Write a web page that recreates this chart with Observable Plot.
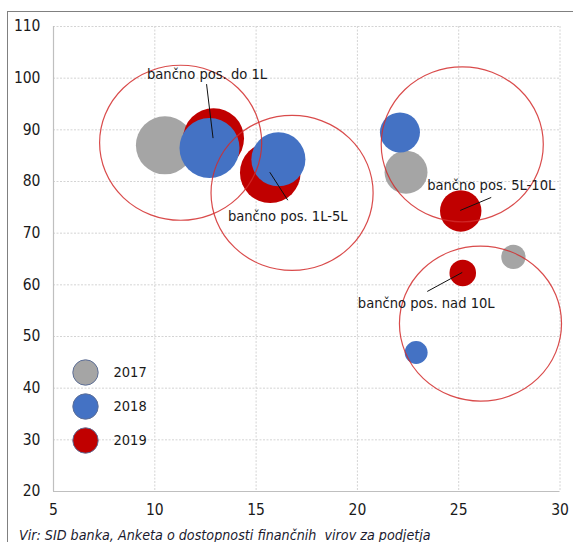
<!DOCTYPE html>
<html>
<head>
<meta charset="utf-8">
<script src="https://cdn.jsdelivr.net/npm/d3@7"></script>
<script src="https://cdn.jsdelivr.net/npm/@observablehq/plot@0.6"></script>
<style>
  html, body { margin: 0; padding: 0; background: #fff; }
  #frame {
    position: absolute; left: 7px; top: 11px; width: 566px; height: 531px;
    border-top: 1px solid #808080; border-left: 1px solid #808080;
  }
  #chart { position: absolute; left: 0; top: 0; }
  #caption {
    position: absolute; left: 19px; top: 527px;
    font: italic 14.2px "DejaVu Sans Condensed", "DejaVu Sans", sans-serif;
    font-stretch: condensed;
    line-height: 17px; color: #1b1b2f; white-space: pre;
  }
</style>
</head>
<body>
<div id="frame"></div>
<div id="chart"></div>
<div id="caption">Vir: SID banka, Anketa o dostopnosti finančnih  virov za podjetja</div>
<script>
// Company groups (by bank debt) and survey years
const groups = ["bančno pos. do 1L", "bančno pos. 1L-5L", "bančno pos. 5L-10L", "bančno pos. nad 10L"];
const years = ["2017", "2018", "2019"];

// Bubble centres per group, one list per year (null = no bubble)
const x2017 = [10.5, null, 22.4, 27.7];
const y2017 = [87.0, null, 81.8, 65.4];
const x2018 = [12.7, 16.1, 22.1, 22.9];
const y2018 = [86.5, 84.3, 89.5, 46.9];
const x2019 = [12.9, 15.7, 25.1, 25.2];
const y2019 = [88.3, 81.7, 74.3, 62.3];

// Bubble sizes (area-coded)
const size2017 = [26.3, null, 14.4, 4.6];
const size2018 = [28.1, 22.8, 12.5, 4.1];
const size2019 = [29.0, 28.7, 13.4, 5.5];

// Centres of the rings grouping each company class
const ringX = [11.3, 16.8, 25.2, 26.1];
const ringY = [87.4, 77.7, 87.1, 52.4];
// Ring half-extent in axis units
const ringHalfX = 4;
const ringHalfY = 15;

// Axis ticks
const xTicks = [5, 10, 15, 20, 25, 30];
const yTicks = [20, 30, 40, 50, 60, 70, 80, 90, 100, 110];

const yearColors = ["#a5a5a5", "#4472c4", "#c00000"];
const FONT = '"DejaVu Sans Condensed", "DejaVu Sans", sans-serif';

const series = {
  "2017": {x: x2017, y: y2017, s: size2017},
  "2018": {x: x2018, y: y2018, s: size2018},
  "2019": {x: x2019, y: y2019, s: size2019}
};
// 2018 bubbles sit on top of 2019, which sit on top of 2017
const drawOrder = ["2017", "2019", "2018"];
const bubbles = drawOrder.flatMap(year =>
  groups.map((group, i) => ({
    year, group,
    x: series[year].x[i], y: series[year].y[i], size: series[year].s[i]
  })).filter(d => d.x != null)
);

const rings = groups.map((group, i) => ({group, x: ringX[i], y: ringY[i]}));

// Label placement relative to each group's 2019 bubble (pixels):
// text centre (tx, ty) and start of the leader line (lx, ly)
const labelLayout = [
  {tx: -6, ty: -64, lx: -6.5, ly: -54},
  {tx: 18, ty: 44, lx: 18, ly: 28},
  {tx: 31, ty: -26, lx: 31, ly: -13},
  {tx: -36, ty: 30, lx: -35, ly: 19}
];

function ringMark(index, scales) {
  const g = d3.create("svg:g");
  for (const d of rings) {
    const cx = scales.x(d.x), cy = scales.y(d.y);
    g.append("ellipse")
      .attr("cx", cx).attr("cy", cy)
      .attr("rx", Math.abs(scales.x(d.x + ringHalfX) - cx))
      .attr("ry", Math.abs(scales.y(d.y + ringHalfY) - cy))
      .attr("fill", "none")
      .attr("stroke", "#d22c2c")
      .attr("stroke-opacity", 0.85)
      .attr("stroke-width", 1.2);
  }
  return g.node();
}

function labelMark(index, scales) {
  const g = d3.create("svg:g");
  groups.forEach((label, i) => {
    const cx = scales.x(x2019[i]), cy = scales.y(y2019[i]);
    const L = labelLayout[i];
    g.append("line")
      .attr("x1", cx + L.lx).attr("y1", cy + L.ly)
      .attr("x2", cx).attr("y2", cy)
      .attr("stroke", "#111").attr("stroke-width", 1);
    g.append("text")
      .attr("x", cx + L.tx).attr("y", cy + L.ty)
      .attr("dy", "0.35em")
      .attr("text-anchor", "middle")
      .attr("font-family", FONT)
      .attr("font-stretch", "condensed")
      .attr("font-size", 14.6)
      .attr("fill", "#1a1a1a")
      .text(label);
  });
  return g.node();
}

const legendMarks = years.flatMap((year, i) => [
  Plot.dot([year], {
    frameAnchor: "top-left", dx: 32, dy: 346 + 34 * i, r: 12.7,
    fill: yearColors[i], stroke: "#5d6f97", strokeWidth: 1
  }),
  Plot.text([year], {
    frameAnchor: "top-left", dx: 60, dy: 346 + 34 * i, text: d => d,
    textAnchor: "start", lineAnchor: "middle", fontSize: 14.5, fill: "#1a1a1a"
  })
]);

const plot = Plot.plot({
  width: 573,
  height: 522,
  marginLeft: 53,
  marginRight: 13.5,
  marginTop: 26,
  marginBottom: 31,
  style: {fontFamily: FONT, fontStretch: "condensed", fontSize: "15px", color: "#1a1a1a", background: "transparent", overflow: "visible"},
  x: {domain: [5, 30]},
  y: {domain: [20, 110]},
  r: {type: "sqrt", domain: [0, 30], range: [0, 31]},
  color: {domain: years, range: yearColors},
  marks: [
    Plot.gridX(xTicks.slice(1), {stroke: "#d4d4d4", strokeOpacity: 1, strokeDasharray: "2,1.5"}),
    Plot.gridY(yTicks.slice(1), {stroke: "#d4d4d4", strokeOpacity: 1, strokeDasharray: "2,1.5"}),
    Plot.ruleX([5], {stroke: "#bfbfbf", strokeWidth: 1.2}),
    Plot.ruleY([20], {stroke: "#bfbfbf", strokeWidth: 1.2}),
    Plot.axisX(xTicks, {tickSize: 0, tickPadding: 12, label: null, fontSize: 15.5, fill: "#1a1a1a"}),
    Plot.axisY(yTicks, {tickSize: 0, tickPadding: 13, label: null, fontSize: 15.5, fill: "#1a1a1a"}),
    Plot.dot(bubbles, {x: "x", y: "y", r: "size", fill: "year", sort: null}),
    ringMark,
    labelMark,
    ...legendMarks
  ]
});

document.getElementById("chart").appendChild(plot);
</script>
</body>
</html>
